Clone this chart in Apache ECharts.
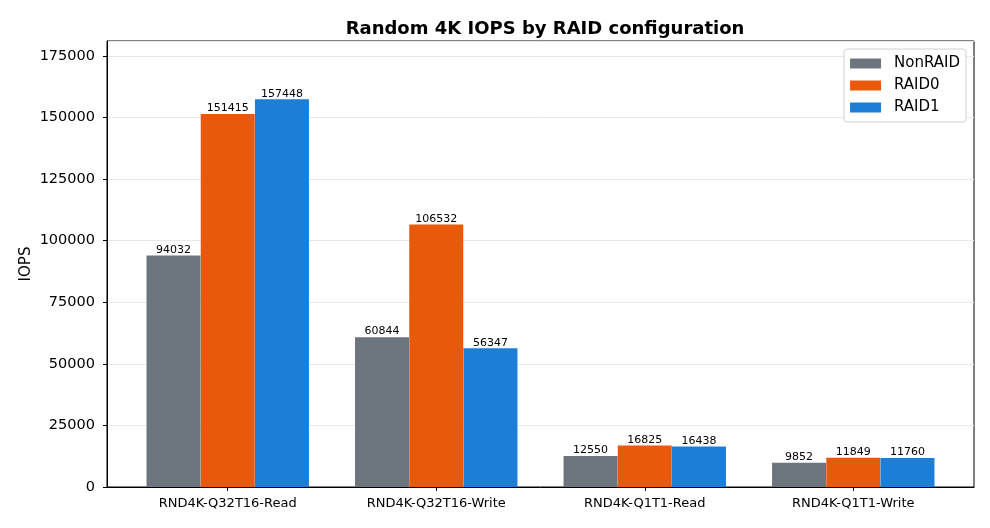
<!DOCTYPE html>
<html>
<head>
<meta charset="utf-8">
<script src="https://cdn.jsdelivr.net/npm/echarts@6/dist/echarts.min.js"></script>
<style>
  html, body { margin: 0; padding: 0; background: #fff; }
  #chart { width: 990px; height: 528px; }
</style>
</head>
<body>
<div id="chart"></div>
<script>
// data
const categories = ['RND4K-Q32T16-Read', 'RND4K-Q32T16-Write', 'RND4K-Q1T1-Read', 'RND4K-Q1T1-Write']
const nonRaid = [94032, 60844, 12550, 9852]
const raid0 = [151415, 106532, 16825, 11849]
const raid1 = [157448, 56347, 16438, 11760]
const yTicks = [0, 25000, 50000, 75000, 100000, 125000, 150000, 175000]

const font = 'DejaVu Sans'
const barW = 0.26 // bar width in category units, like matplotlib

// each series sits at index + offset on a numeric x axis
const toPoints = (vals, off) => vals.map((v, i) => [i + off * barW, v])

const makeSeries = (name, vals, off, color) => ({
  name: name,
  type: 'bar',
  data: toPoints(vals, off),
  barWidth: 54,
  barGap: '-100%',
  itemStyle: { color: color },
  label: {
    show: true,
    position: 'top',
    distance: 0,
    fontFamily: font,
    fontSize: 11,
    color: '#000',
    formatter: (p) => p.value[1],
  },
})

const chart = echarts.init(document.getElementById('chart'))
chart.setOption({
  animation: false,
  textStyle: { fontFamily: font },
  title: {
    text: 'Random 4K IOPS by RAID configuration',
    left: 540,
    textAlign: 'center',
    top: 15,
    textStyle: { fontFamily: font, fontSize: 18, fontWeight: 'bold', color: '#000' },
  },
  legend: {
    orient: 'vertical',
    right: 24,
    top: 49,
    icon: 'rect',
    itemWidth: 31,
    itemHeight: 10,
    itemGap: 7,
    padding: [7, 6, 7, 6],
    backgroundColor: '#fff',
    borderColor: '#d0d0d0',
    borderWidth: 1,
    borderRadius: 3,
    textStyle: { fontFamily: font, fontSize: 15, color: '#000', lineHeight: 15, padding: [0, 0, 0, 8] },
  },
  grid: {
    left: 107,
    right: 16,
    top: 41,
    bottom: 41,
    show: true,
    borderColor: '#000',
    borderWidth: 1,
  },
  xAxis: {
    type: 'value',
    min: -0.579,
    max: 3.579,
    splitLine: { show: false },
    axisLine: { show: true, onZero: false, lineStyle: { color: '#000' } },
    axisTick: { show: true, length: 4, lineStyle: { color: '#000' }, customValues: [0, 1, 2, 3] },
    axisLabel: {
      customValues: [0, 1, 2, 3],
      formatter: (v) => categories[Math.round(v)],
      fontFamily: font,
      fontSize: 13,
      color: '#000',
      margin: 10,
    },
  },
  yAxis: {
    type: 'value',
    min: 0,
    max: 181065,
    interval: 25000,
    name: 'IOPS',
    nameLocation: 'middle',
    nameGap: 73,
    nameMoveOverlap: false,
    nameTextStyle: { fontFamily: font, fontSize: 15, color: '#000' },
    axisLine: { show: true, onZero: false, lineStyle: { color: '#000' } },
    axisTick: { show: true, length: 4, lineStyle: { color: '#000' } },
    axisLabel: {
      fontFamily: font,
      fontSize: 14.5,
      color: '#000',
      margin: 12,
      showMaxLabel: false,
      formatter: (v) => (yTicks.indexOf(v) >= 0 ? v : ''),
    },
    splitLine: { show: true, lineStyle: { color: '#e8e8e8', width: 1 } },
  },
  series: [
    makeSeries('NonRAID', nonRaid, -1, '#6c757d'),
    makeSeries('RAID0', raid0, 0, '#e8590c'),
    makeSeries('RAID1', raid1, 1, '#1c7ed6'),
  ],
})
</script>
</body>
</html>
